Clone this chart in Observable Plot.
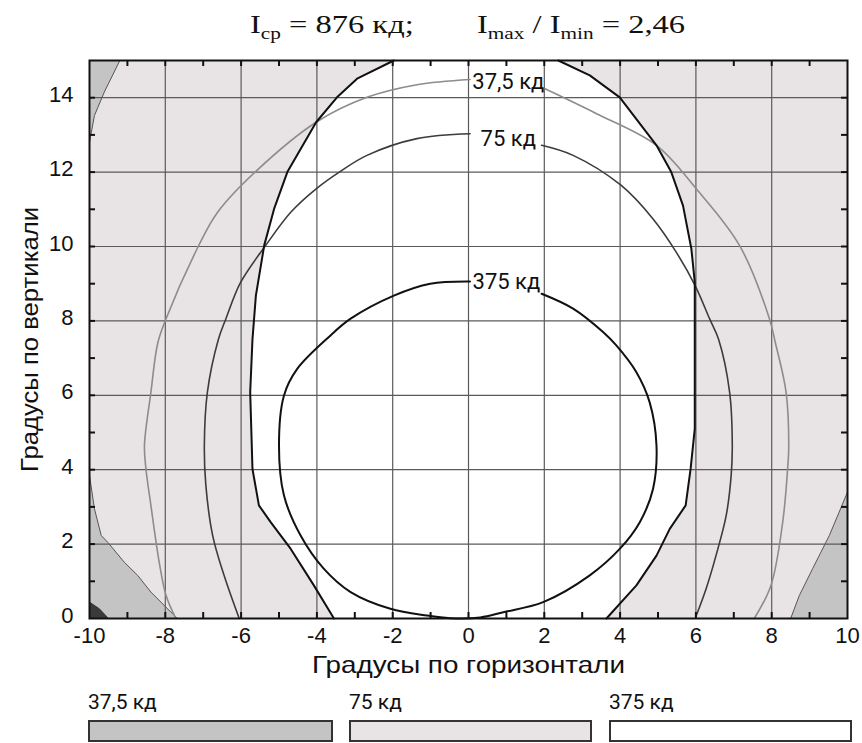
<!DOCTYPE html>
<html><head><meta charset="utf-8">
<script src="https://cdn.jsdelivr.net/npm/d3@7"></script>
<script src="https://cdn.jsdelivr.net/npm/@observablehq/plot@0.6"></script>
<style>
body{margin:0;background:#fff;}
#wrap{position:relative;width:862px;height:743px;overflow:hidden;background:#fff;}
.title{position:absolute;top:12px;font-family:"Liberation Serif","Times New Roman",serif;font-size:26px;line-height:26px;color:#111;white-space:nowrap;transform:scaleX(1.25);transform-origin:0 0;}
.title .sub{font-size:17px;position:relative;top:6px;}
#chart{position:absolute;left:0;top:50px;}
.leg-label{position:absolute;top:692px;font-family:Roboto,"Noto Sans",sans-serif;font-size:21px;line-height:21px;color:#111;}
.leg-box{position:absolute;top:720px;height:18px;border:2px solid #333;}
</style></head>
<body>
<div id="wrap">
  <div class="title" style="left:250px">I<span class="sub">ср</span> = 876 кд;</div>
  <div class="title" style="left:477px">I<span class="sub">max</span> / I<span class="sub">min</span> = 2,46</div>
  <div id="chart"></div>
</div>
<script>
// ---- axes
const xTicks = [-10, -8, -6, -4, -2, 0, 2, 4, 6, 8, 10];
const yTicks = [0, 2, 4, 6, 8, 10, 12, 14];
const xGrid = [-8, -6, -4, -2, 0, 2, 4, 6, 8];
const yGrid = [2, 4, 6, 8, 10, 12, 14];
const xMinor = [-9, -8, -7, -6, -5, -4, -3, -2, -1, 0, 1, 2, 3, 4, 5, 6, 7, 8, 9];
const yMinor = [1, 2, 3, 4, 5, 6, 7, 8, 9, 10, 11, 12, 13, 14];

// ---- filled zones
const contourLeft = [[-1.97,15],[-2.94,14.51],[-3.47,14.01],[-4.02,13.34],[-4.78,12.0],[-5.13,11.01],[-5.39,10.03],[-5.61,8.68],[-5.70,7.5],[-5.76,6.08],[-5.70,4.02],[-5.53,3.04],[-5.22,2.59],[-4.69,1.87],[-4.08,0.89],[-3.55,0]];
const contourRight = [[2.37,15],[3.20,14.6],[3.99,14.01],[4.96,12.72],[5.35,12.0],[5.66,11.1],[5.88,9.94],[5.97,9.04],[5.97,7.5],[5.97,5.1],[5.86,4.02],[5.73,3.04],[5.31,2.41],[4.96,1.69],[4.43,0.89],[3.64,0]];
const grayTopLeft = [[-10,15],[-9.2,15],[-9.61,14.15],[-9.87,13.52],[-10,12.8]];
const grayBottomLeft = [[-10,0],[-10,3.84],[-9.87,2.95],[-9.69,2.23],[-9.52,2.05],[-9.08,1.51],[-8.73,1.16],[-8.38,0.71],[-7.85,0.17],[-7.68,0]];
const grayBottomRight = [[10,0],[10,3.4],[9.78,2.86],[9.52,2.23],[9.08,1.34],[8.73,0.62],[8.5,0]];
const darkCorner = [[-10,0],[-10,0.44],[-9.74,0.26],[-9.5,0]];

// ---- isolines
const iso37Left = [[-7.72,0],[-7.98,0.62],[-8.16,1.51],[-8.38,3.04],[-8.51,4.02],[-8.55,4.65],[-8.38,6.08],[-8.2,7.4],[-7.98,8.06],[-7.11,10.04],[-6.62,10.92],[-5.61,12.02],[-4.02,13.34],[-2.68,14.01],[-1.36,14.35],[0.04,14.49]];
const iso37Right = [[2.02,14.24],[3.38,13.57],[4.96,12.72],[6.01,11.55],[7.15,10.03],[7.94,8.06],[8.1,7.4],[8.38,6.08],[8.45,4.65],[8.42,4.02],[8.29,2.59],[7.98,0.89],[7.54,0]];
const iso75Left = [[-6.05,0],[-6.45,1.16],[-6.75,2.23],[-6.93,3.58],[-6.97,4.65],[-6.89,6.08],[-6.6,7.5],[-6.40,8.06],[-6.01,9.04],[-5.35,10.03],[-4.69,10.92],[-4.02,11.55],[-3.38,12.02],[-2.68,12.45],[-1.36,12.9],[0.04,13.03]];
const iso75Right = [[1.93,12.72],[2.76,12.45],[4.03,11.64],[4.87,10.74],[5.48,9.85],[5.98,8.95],[6.36,8.06],[6.6,7.5],[6.89,6.08],[6.96,4.65],[6.93,3.84],[6.8,2.77],[6.53,1.69],[6.27,0.8],[6.01,0.08]];
const iso375 = [[0.04,9.06],[-1.01,9.0],[-1.97,8.68],[-3.11,8.06],[-3.64,7.61],[-4.52,6.71],[-4.87,5.99],[-5.0,4.65],[-4.87,3.31],[-4.43,2.23],[-3.82,1.34],[-3.11,0.71],[-2.06,0.26],[-1.1,0.08],[-0.48,0.01],[0.31,0.03],[0.92,0.17],[1.97,0.44],[3.2,1.16],[3.99,1.87],[4.52,2.59],[4.87,3.49],[4.96,4.65],[4.78,5.81],[4.43,6.62],[3.9,7.34],[3.55,7.7],[2.76,8.33],[1.93,8.73]];

// ---- labels
const isoLabels = ["37,5 кд", "75 кд", "375 кд"];
const isoLabelX = [1.05, 1.05, 1.0];
const isoLabelY = [14.42, 12.9, 9.04];
const legendLabels = ["37,5 кд", "75 кд", "375 кд"];
const legendColors = ["#c4c4c4", "#e8e4e6", "#ffffff"];
const xTitle = "Градусы по горизонтали";
const yTitle = "Градусы по вертикали";

const px = d => d[0], py = d => d[1];
const whiteZone = [...contourLeft, ...contourRight.slice().reverse()];
const labelRows = isoLabels.map((t, i) => ({t, x: isoLabelX[i], y: isoLabelY[i]}));
const fmt = d => d < 0 ? "-" + Math.abs(d) : String(d);
const sans = "'Liberation Sans', Arial, sans-serif";
const narrow = "Roboto, 'Noto Sans', sans-serif";

const W = 862, H = 638, mL = 89, mR = 15, mT = 10, mB = 70;
const innerW = W - mL - mR, innerH = H - mT - mB, tl = 6;

const chart = Plot.plot({
  width: W, height: H,
  marginLeft: mL, marginRight: mR, marginTop: mT, marginBottom: mB,
  x: {domain: [-10, 10]},
  y: {domain: [0, 15]},
  style: {background: "transparent", fontFamily: sans, fontSize: "22px", color: "#111"},
  marks: [
    Plot.frame({fill: legendColors[1], stroke: null}),
    Plot.line(whiteZone, {x: px, y: py, fill: "white", stroke: null}),
    Plot.line(grayTopLeft, {x: px, y: py, fill: legendColors[0], stroke: "#555", strokeWidth: 1}),
    Plot.line(grayBottomLeft, {x: px, y: py, fill: legendColors[0], stroke: "#555", strokeWidth: 1}),
    Plot.line(grayBottomRight, {x: px, y: py, fill: legendColors[0], stroke: "#555", strokeWidth: 1}),
    Plot.line(darkCorner, {x: px, y: py, fill: "#3a3a3a", stroke: "#333", strokeWidth: 1}),
    Plot.ruleX(xGrid, {stroke: "#5a5a5a", strokeWidth: 1.2}),
    Plot.ruleY(yGrid, {stroke: "#5a5a5a", strokeWidth: 1.2}),
    Plot.line(iso37Left, {x: px, y: py, stroke: "#8c8c8c", strokeWidth: 1.6, curve: "catmull-rom"}),
    Plot.line(iso37Right, {x: px, y: py, stroke: "#8c8c8c", strokeWidth: 1.6, curve: "catmull-rom"}),
    Plot.line(iso75Left, {x: px, y: py, stroke: "#3c3c3c", strokeWidth: 1.6, curve: "catmull-rom"}),
    Plot.line(iso75Right, {x: px, y: py, stroke: "#3c3c3c", strokeWidth: 1.6, curve: "catmull-rom"}),
    Plot.line(iso375, {x: px, y: py, stroke: "#111", strokeWidth: 2, curve: "catmull-rom"}),
    Plot.line(contourLeft, {x: px, y: py, stroke: "#111", strokeWidth: 2}),
    Plot.line(contourRight, {x: px, y: py, stroke: "#111", strokeWidth: 2}),
    Plot.text(labelRows, {x: "x", y: "y", text: "t", fontSize: 22, fontFamily: narrow, fill: "#111"}),
    Plot.tickX(xMinor, {x: d => d, insetTop: innerH - tl, stroke: "#111", strokeWidth: 2}),
    Plot.tickX(xMinor, {x: d => d, insetBottom: innerH - tl, stroke: "#111", strokeWidth: 2}),
    Plot.tickY(yMinor, {y: d => d, insetRight: innerW - tl, stroke: "#111", strokeWidth: 2}),
    Plot.tickY(yMinor, {y: d => d, insetLeft: innerW - tl, stroke: "#111", strokeWidth: 2}),
    Plot.frame({stroke: "#111", strokeWidth: 2}),
    Plot.axisX({ticks: xTicks, tickSize: 0, tickPadding: 9, tickFormat: fmt, fontSize: 22, label: null}),
    Plot.axisY({ticks: yTicks, tickSize: 0, tickPadding: 16, dy: -3, tickFormat: fmt, fontSize: 22, label: null}),
    Plot.text([xTitle], {text: d => d, frameAnchor: "bottom", lineAnchor: "middle", textAnchor: "middle", dy: 47, fontSize: 24}),
    Plot.text([yTitle], {text: d => d, frameAnchor: "left", lineAnchor: "middle", textAnchor: "middle", dx: -59, rotate: -90, fontSize: 24})
  ]
});
document.getElementById("chart").appendChild(chart);

// stretch the axis titles to the widths seen in the reference scan
d3.select(chart).selectAll("text").each(function () {
  if (this.textContent === xTitle) d3.select(this).attr("textLength", 313).attr("lengthAdjust", "spacingAndGlyphs");
  if (this.textContent === yTitle) d3.select(this).attr("textLength", 265).attr("lengthAdjust", "spacingAndGlyphs");
});

// legend below the chart
const wrap = document.getElementById("wrap");
const legLeft = [88, 349, 609], legW = 245;
legendLabels.forEach((t, i) => {
  const l = document.createElement("div");
  l.className = "leg-label"; l.style.left = legLeft[i] + "px"; l.textContent = t;
  wrap.appendChild(l);
  const b = document.createElement("div");
  b.className = "leg-box"; b.style.left = legLeft[i] + "px";
  b.style.width = (legW - 4 - (i === 0 ? 0 : 2)) + "px"; b.style.background = legendColors[i];
  wrap.appendChild(b);
});
</script>
</body></html>
